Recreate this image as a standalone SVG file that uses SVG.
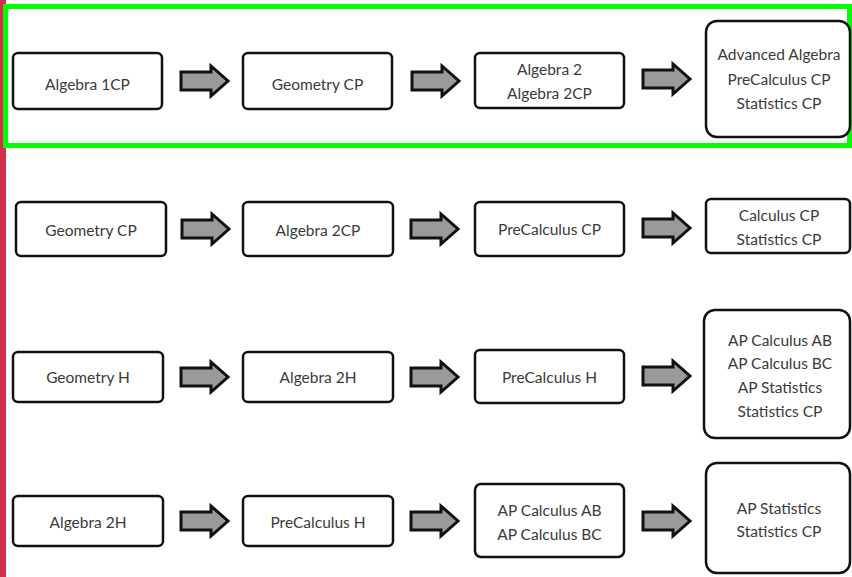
<svg xmlns="http://www.w3.org/2000/svg" width="852" height="577" viewBox="0 0 852 577">
<style>
.box{fill:#fff;stroke:#111;stroke-width:2.5}
.t{font-family:Lato,"Liberation Sans",sans-serif;font-size:15.5px;fill:#3a3a3a;text-anchor:middle}
.arr{fill:#9a9a9a;stroke:#111;stroke-width:3;stroke-linejoin:miter}
</style>
<defs>
<path id="arrow" d="M0,-9 H30 V-15 L47,0 L30,15 V9 H0 Z"/>
</defs>
<rect x="0" y="0" width="852" height="577" fill="#fff"/>
<rect x="0" y="0" width="6" height="577" fill="#d0304c"/>
<rect x="5.5" y="6.5" width="844" height="139" fill="none" stroke="#00ff00" stroke-width="5"/>

<!-- Row 1 -->
<g id="r1n1"><rect class="box" x="13" y="53" width="149" height="56" rx="5"/><text class="t" x="87.5" y="90">Algebra 1CP</text></g>
<g id="r1n2"><rect class="box" x="243" y="53" width="149" height="56" rx="5"/><text class="t" x="317.5" y="90">Geometry CP</text></g>
<g id="r1n3"><rect class="box" x="475" y="53" width="149" height="55" rx="5"/><text class="t" x="549.5" y="75">Algebra 2</text><text class="t" x="549.5" y="99">Algebra 2CP</text></g>
<g id="r1n4"><rect class="box" x="706" y="21" width="144" height="116" rx="11"/><text class="t" x="779" y="60">Advanced Algebra</text><text class="t" x="779" y="85">PreCalculus CP</text><text class="t" x="779" y="109">Statistics CP</text></g>

<!-- Row 2 -->
<g id="r2n1"><rect class="box" x="16" y="202" width="150" height="54" rx="5"/><text class="t" x="91" y="236">Geometry CP</text></g>
<g id="r2n2"><rect class="box" x="243" y="202" width="150" height="54" rx="5"/><text class="t" x="318" y="236">Algebra 2CP</text></g>
<g id="r2n3"><rect class="box" x="475" y="202" width="149" height="54" rx="5"/><text class="t" x="549.5" y="235">PreCalculus CP</text></g>
<g id="r2n4"><rect class="box" x="706" y="199" width="144" height="54" rx="5"/><text class="t" x="779" y="221">Calculus CP</text><text class="t" x="779" y="245">Statistics CP</text></g>

<!-- Row 3 -->
<g id="r3n1"><rect class="box" x="13" y="352" width="150" height="50" rx="5"/><text class="t" x="88" y="383">Geometry H</text></g>
<g id="r3n2"><rect class="box" x="243" y="352" width="150" height="50" rx="5"/><text class="t" x="318" y="383">Algebra 2H</text></g>
<g id="r3n3"><rect class="box" x="475" y="350" width="149" height="53" rx="5"/><text class="t" x="549.5" y="383">PreCalculus H</text></g>
<g id="r3n4"><rect class="box" x="704" y="310" width="146" height="128" rx="11"/><text class="t" x="780" y="346">AP Calculus AB</text><text class="t" x="780" y="369">AP Calculus BC</text><text class="t" x="780" y="393">AP Statistics</text><text class="t" x="780" y="417">Statistics CP</text></g>

<!-- Row 4 -->
<g id="r4n1"><rect class="box" x="13" y="496" width="150" height="50" rx="5"/><text class="t" x="88" y="528">Algebra 2H</text></g>
<g id="r4n2"><rect class="box" x="243" y="496" width="150" height="50" rx="5"/><text class="t" x="318" y="528">PreCalculus H</text></g>
<g id="r4n3"><rect class="box" x="475" y="484" width="149" height="73" rx="6"/><text class="t" x="549.5" y="516">AP Calculus AB</text><text class="t" x="549.5" y="540">AP Calculus BC</text></g>
<g id="r4n4"><rect class="box" x="706" y="463" width="144" height="110" rx="11"/><text class="t" x="779" y="514">AP Statistics</text><text class="t" x="779" y="537">Statistics CP</text></g>

<g id="connectors">
<use href="#arrow" class="arr" x="181" y="81"/>
<use href="#arrow" class="arr" x="412" y="81"/>
<use href="#arrow" class="arr" x="643" y="79"/>
<use href="#arrow" class="arr" x="182" y="229"/>
<use href="#arrow" class="arr" x="411" y="229"/>
<use href="#arrow" class="arr" x="643" y="228"/>
<use href="#arrow" class="arr" x="181" y="377"/>
<use href="#arrow" class="arr" x="411" y="377"/>
<use href="#arrow" class="arr" x="643" y="376"/>
<use href="#arrow" class="arr" x="181" y="521"/>
<use href="#arrow" class="arr" x="411" y="521"/>
<use href="#arrow" class="arr" x="643" y="521"/>
</g>
</svg>
